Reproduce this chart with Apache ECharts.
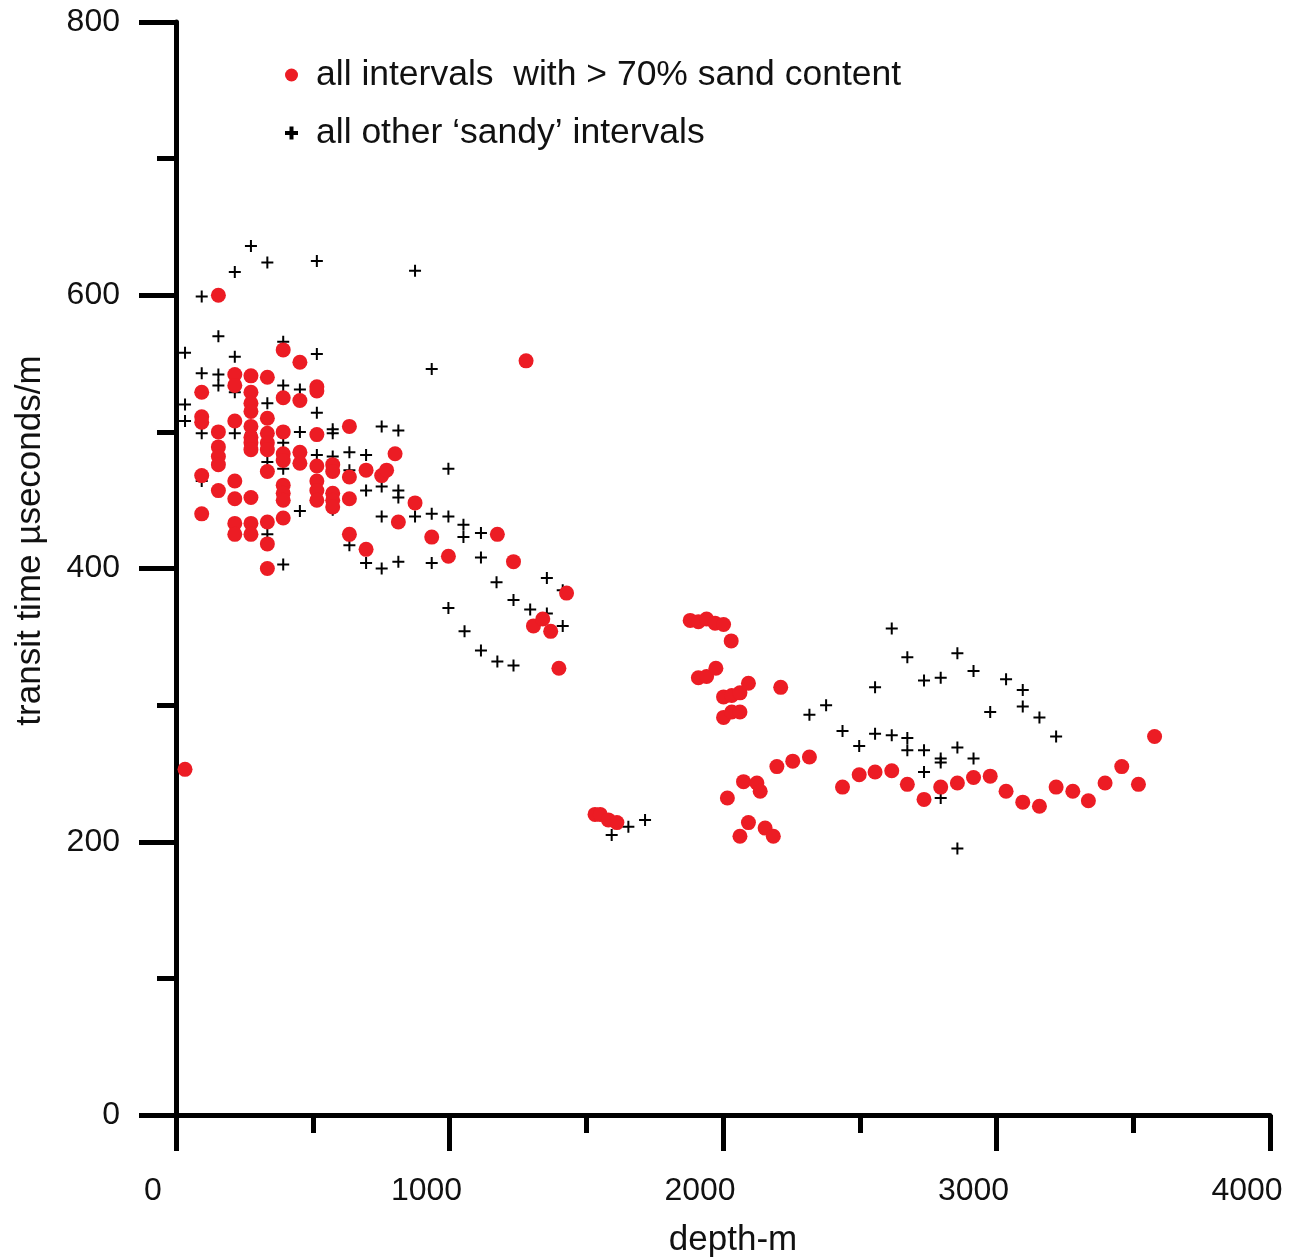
<!DOCTYPE html>
<html>
<head>
<meta charset="utf-8">
<script src="https://cdn.jsdelivr.net/npm/echarts@6/dist/echarts.min.js"></script>
<style>
html,body{margin:0;padding:0;background:#fff;}
#chart{width:1296px;height:1257px;}
</style>
</head>
<body>
<div id="chart"></div>
<script>
// ---- data (depth in m, transit time in µs/m) ----
const sandName = 'all intervals  with > 70% sand content';
const otherName = 'all other \u2018sandy\u2019 intervals';

const sandDepth = [
  33,
  94,94,94,94,94,
  155,155,155,155,155,155,
  215,215,215,215,215,215,215,
  274,274,274,274,274,274,274,274,274,274,274,
  334,334,334,334,334,334,334,334,334,
  392,392,392,392,392,392,392,392,392,
  453,453,453,453,
  515,515,515,515,515,515,515,
  573,573,573,573,573,
  634,634,634,634,
  695,695,752,770,801,813,874,935,996,
  1175,1234,1280,1307,1341,1370,1400,1428,
  1532,1551,1581,1612,
  1880,1910,1940,1971,2002,2030,
  1910,1940,1974,
  2002,2032,2062,2093,
  2002,2032,2062,2211,
  2016,2075,2124,2136,
  2093,2062,2154,2184,
  2197,2255,2316,
  2437,2498,2556,2617,2674,2735,2796,2857,2916,2977,3035,3096,3157,3218,3279,3336,3397,3458,3519,3578
];
const sandTime = [
  253,
  529,511,507,468,440,
  600,500,489,482,476,457,
  542,534,508,464,451,433,425,
  541,529,521,515,504,496,492,487,452,433,425,
  540,510,499,492,487,471,434,418,400,
  560,525,500,484,479,461,455,450,437,
  551,523,485,477,
  533,530,498,475,464,457,450,
  476,471,455,450,445,
  504,467,451,425,
  472,414,468,472,484,434,448,423,409,
  425,405,552,358,363,354,327,382,
  220,220,216,214,
  362,361,363,360,359,347,
  320,321,327,
  306,307,309,316,
  291,295,295,313,
  232,244,243,237,
  214,204,210,204,
  255,259,262,
  240,249,251,252,242,231,240,243,247,248,237,229,226,240,237,230,243,255,242,277
];

const otherDepth = [
  33,33,33,
  94,94,94,94,
  155,155,155,
  215,215,215,215,
  274,274,
  334,334,334,334,
  392,392,392,392,392,
  453,453,453,
  515,515,515,515,
  573,573,573,573,
  634,634,634,
  695,695,695,
  752,752,752,752,
  813,813,813,813,
  874,874,
  935,935,935,
  996,996,996,
  1051,1051,1055,
  1115,1115,1115,
  1172,1175,1234,1234,1295,1356,1356,1414,1414,
  1593,1654,1715,
  2316,2377,2437,2498,
  2556,2556,2617,2617,
  2674,2674,2674,
  2735,2735,2735,
  2796,2796,2796,2796,
  2857,2857,2857,
  2916,2916,2977,3035,3096,3096,3157,3218
];
const otherTime = [
  558,520,508,
  599,543,499,464,
  570,542,534,
  617,555,529,499,
  636,499,
  624,521,478,425,
  566,534,492,473,403,
  531,500,442,
  625,557,514,483,
  502,499,482,443,
  485,472,417,
  483,457,404,
  504,460,438,400,
  501,457,452,405,
  618,438,
  546,440,404,
  473,438,371,
  432,423,354,
  426,408,340,
  390,332,377,329,370,393,367,384,358,
  205,211,216,
  293,300,281,270,
  313,279,356,278,
  335,276,267,
  318,267,251,
  320,261,258,232,
  338,269,195,
  325,261,295,319,311,299,291,277
];

const xTicks = {min: 0, max: 4000, interval: 1000};
const yTicks = {min: 0, max: 800, interval: 200};

// ---- build ----
const zip = (a, b) => a.map((v, i) => [v, b[i]]);
const RED = '#ec1c24';
const FONT = '"Liberation Sans", Arial, Helvetica, sans-serif';
const crossPath = 'path://M5,0H7V5H12V7H7V12H5V7H0V5H5Z';
const crossBold = 'path://M4.5,0H8.5V4.5H13V8.5H8.5V13H4.5V8.5H0V4.5H4.5Z';

const chart = echarts.init(document.getElementById('chart'), null, {renderer: 'canvas'});
chart.setOption({
  backgroundColor: '#ffffff',
  animation: false,
  grid: {left: 176, right: 26, top: 22, bottom: 142, containLabel: false, outerBoundsMode: 'none'},
  legend: {
    orient: 'vertical',
    left: 280,
    top: 52,
    itemWidth: 13,
    itemHeight: 13,
    itemGap: 22,
    textStyle: {fontFamily: FONT, fontSize: 35.5, color: '#111', padding: [0, 0, 0, 13]},
    data: [
      {name: sandName, icon: 'circle', itemStyle: {color: RED}},
      {name: otherName, icon: crossBold, itemStyle: {color: '#000'}}
    ]
  },
  xAxis: {
    type: 'value',
    min: xTicks.min, max: xTicks.max, interval: xTicks.interval,
    name: 'depth-m',
    nameLocation: 'middle',
    nameGap: 108,
    nameTextStyle: {fontFamily: FONT, fontSize: 35, color: '#111', padding: [0, 0, 0, 20]},
    axisLine: {show: true, onZero: false, lineStyle: {color: '#000', width: 5}},
    axisTick: {show: true, inside: false, length: 36, lineStyle: {color: '#000', width: 5}},
    minorTick: {show: true, splitNumber: 2, length: 18, lineStyle: {color: '#000', width: 5}},
    axisLabel: {fontFamily: FONT, fontSize: 32, color: '#111', margin: 60, padding: [0, 46, 0, 0],
      formatter: v => String(v)},
    splitLine: {show: false}
  },
  yAxis: {
    type: 'value',
    min: yTicks.min, max: yTicks.max, interval: yTicks.interval,
    name: 'transit time \u00b5seconds/m',
    nameLocation: 'middle',
    nameGap: 128,
    nameTextStyle: {fontFamily: FONT, fontSize: 35, color: '#111', padding: [0, 0, 0, 56]},
    axisLine: {show: true, onZero: false, lineStyle: {color: '#000', width: 5}},
    axisTick: {show: true, inside: false, length: 37, lineStyle: {color: '#000', width: 5}},
    minorTick: {show: true, splitNumber: 2, length: 19, lineStyle: {color: '#000', width: 5}},
    axisLabel: {fontFamily: FONT, fontSize: 32, color: '#111', margin: 56, formatter: v => String(v)},
    splitLine: {show: false}
  },
  series: [
    {
      name: otherName,
      type: 'scatter',
      symbol: crossPath,
      symbolSize: 12,
      itemStyle: {color: '#000', opacity: 1},
      data: zip(otherDepth, otherTime),
      z: 2
    },
    {
      name: sandName,
      type: 'scatter',
      symbol: 'circle',
      symbolSize: 15,
      itemStyle: {color: RED, opacity: 1},
      data: zip(sandDepth, sandTime),
      z: 3
    }
  ]
});
</script>
</body>
</html>
